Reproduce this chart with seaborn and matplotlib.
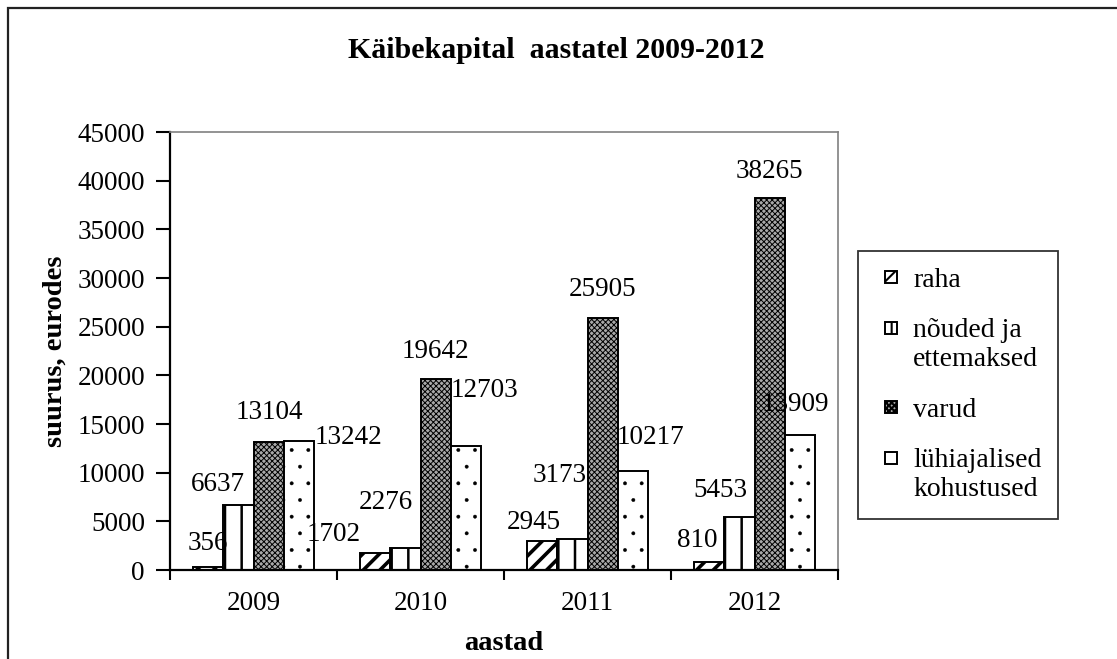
import numpy as np
import pandas as pd
import matplotlib
matplotlib.use("Agg")
import matplotlib.pyplot as plt
import seaborn as sns
from matplotlib.patches import Rectangle
from matplotlib.legend_handler import HandlerPatch
from matplotlib.ticker import FixedLocator

# --- data -------------------------------------------------------------
years = ["2009", "2010", "2011", "2012"]
series = ["raha", "nõuded ja\nettemaksed", "varud", "lühiajalised\nkohustused"]
raha = [356, 1702, 2945, 810]
nouded_ja_ettemaksed = [6637, 2276, 3173, 5453]
varud = [13104, 19642, 25905, 38265]
luhiajalised_kohustused = [13242, 12703, 10217, 13909]
y_ticks = [0, 5000, 10000, 15000, 20000, 25000, 30000, 35000, 40000, 45000]

values = [raha, nouded_ja_ettemaksed, varud, luhiajalised_kohustused]
df = pd.DataFrame({
    "aasta": years * len(series),
    "kirje": np.repeat(series, len(years)),
    "summa": raha + nouded_ja_ettemaksed + varud + luhiajalised_kohustused,
})

# --- style ------------------------------------------------------------
sns.set_theme(style="white")
plt.rcParams["font.family"] = ["Liberation Serif", "DejaVu Serif"]
plt.rcParams["hatch.linewidth"] = 1.5

W, H = 1117, 659
fig = plt.figure(figsize=(W / 100, H / 100), dpi=100)
ax = fig.add_axes([170 / W, 1 - 570 / H, (838 - 170) / W, (570 - 132) / H])

fills = {series[0]: "white", series[1]: "white", series[2]: "#a8a8a8", series[3]: "white"}
sns.barplot(data=df, x="aasta", y="summa", hue="kirje", order=years,
            hue_order=series, palette=fills, saturation=1, width=0.73, gap=0,
            edgecolor="black", linewidth=1.4, errorbar=None, legend=False, ax=ax)

# bar fill patterns per series: (hatch, hatch colour, hatch width)
patterns = [("//", "black", 2.6), ("|", "black", 1.8),
            ("xxxxxx", "#666666", 0.7), (".", "#333333", 0.3)]
for cont, (h, hc, hw) in zip(ax.containers, patterns):
    for bar in cont:
        bar.set_hatch(h)
        if hasattr(bar, "set_hatchcolor"):
            bar.set_hatchcolor(hc)
        if hasattr(bar, "set_hatch_linewidth"):
            bar.set_hatch_linewidth(hw)

# value labels, nudged (in pixels) from the top centre of each bar
label_nudge = [
    [(0, 26), (-41, 21), (-8, 21), (-12, 24)],
    [(-20, 23), (-19, 48), (-13, 66), (-19, 29)],
    [(1, 32), (0, 30), (0, 31), (0, 29)],
    [(49, 6), (18, 58), (17, 36), (-5, 33)],
]
for cont, vals, nudges in zip(ax.containers, values, label_nudge):
    for bar, v, (dx, dy) in zip(cont, vals, nudges):
        ax.annotate(f"{v}", (bar.get_x() + bar.get_width() / 2, bar.get_height()),
                    xytext=(dx, dy - 9), textcoords="offset pixels",
                    ha="center", va="baseline", fontsize=19.5, color="black",
                    annotation_clip=False)

# --- axes -------------------------------------------------------------
ax.set_ylim(0, 45000)
ax.set_xlim(-0.5, len(years) - 0.5)
ax.yaxis.set_major_locator(FixedLocator(y_ticks))
ax.set_yticklabels([str(t) for t in y_ticks], fontsize=19.5)
ax.set_xticks(range(len(years)))
ax.set_xticklabels(years, fontsize=19.5)
ax.set_xticks(np.arange(-0.5, len(years)), minor=True)
ax.tick_params(axis="x", which="major", length=0, pad=15, colors="black")
ax.tick_params(axis="x", which="minor", length=7, width=1.5, direction="out",
               color="black", bottom=True)
ax.tick_params(axis="y", which="major", length=10, width=1.5, direction="out",
               pad=8, colors="black", left=True)

for side in ("left", "bottom"):
    ax.spines[side].set_color("black")
    ax.spines[side].set_linewidth(1.6)
for side in ("top", "right"):
    ax.spines[side].set_color("#808080")
    ax.spines[side].set_linewidth(1.2)
ax.grid(False)

ax.set_xlabel("aastad", fontsize=20.5, fontweight="bold", color="black")
ax.set_ylabel("suurus, eurodes", fontsize=20.5, fontweight="bold", color="black")
ax.xaxis.set_label_coords(0.5, -(631 - 570) / 438)
ax.yaxis.set_label_coords(-(170 - 68) / 668, 0.5)

fig.text(556 / W, 1 - 51 / H, "Käibekapital  aastatel 2009-2012",
         ha="center", va="center", fontsize=21.5, fontweight="bold", color="black")

# --- legend -----------------------------------------------------------
SWATCH_OFFSET = 0.37   # swatch starts this far (in font sizes) into the handle box
SWATCH_SIZE = 0.44


def swatch(lift):
    def make(legend, orig_handle, xdescent, ydescent, width, height, fontsize):
        return Rectangle((-xdescent + SWATCH_OFFSET * fontsize,
                          -ydescent + lift * fontsize + (height - SWATCH_SIZE * fontsize) / 2),
                         SWATCH_SIZE * fontsize, SWATCH_SIZE * fontsize)
    return make


handles = [cont[0] for cont in ax.containers]
# two-line labels get their swatch beside the first line
handler_map = {h: HandlerPatch(patch_func=swatch(0.6 if "\n" in lab else 0.0))
               for h, lab in zip(handles, series)}
leg = fig.legend(handles, series, loc="upper left",
                 bbox_to_anchor=(858 / W, 1 - 251 / H), borderaxespad=0,
                 fontsize=20, frameon=True, fancybox=False, shadow=False,
                 handlelength=SWATCH_OFFSET + SWATCH_SIZE, handleheight=0.5,
                 handletextpad=0.58, borderpad=0.6, labelspacing=0.92,
                 handler_map=handler_map)
leg.get_frame().set_edgecolor("black")
leg.get_frame().set_linewidth(1.3)
for t in leg.get_texts():
    t.set_linespacing(1.2)
    t.set_color("black")

# outer frame around the whole chart
fig.patches.append(Rectangle((8 / W, -0.1), 1.2, 1 - 8 / H + 0.1,
                             transform=fig.transFigure, fill=False,
                             edgecolor="#222222", linewidth=1.6))

fig.savefig("out.png", dpi=100)
